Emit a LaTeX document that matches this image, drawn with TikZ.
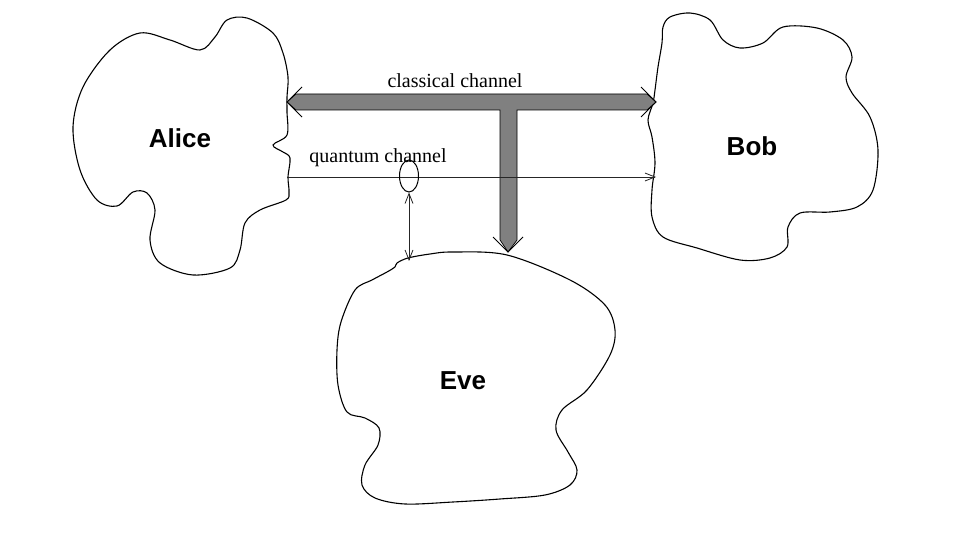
\documentclass[tikz,border=0pt]{standalone}
\usepackage{fontspec}
\setmainfont{Liberation Serif}
\newfontfamily\namefont{Liberation Sans Bold}
\usetikzlibrary{arrows.meta,shapes.geometric,calc}
\tikzset{
  blob/.style={draw=black, line width=1.1pt},
  who/.style={font=\namefont\fontsize{26}{30}\selectfont},
  chanlabel/.style={font=\fontsize{20}{24}\selectfont},
  chanbar/.style={draw=black, line width=0.7pt, fill=black!50},
  openhead/.style={draw=black, line width=0.8pt},
  qline/.style={draw=black!85, line width=0.8pt},
  qtip/.style={-{Straight Barb[length=10pt,width=8pt]}},
  qtips/.style={{Straight Barb[length=10pt,width=8pt]}-{Straight Barb[length=10pt,width=8pt]}}
}
\begin{document}
\begin{tikzpicture}[x=1pt,y=-1pt]
\useasboundingbox (0,0) rectangle (962,540);
% Alice
\draw[blob] plot[smooth cycle, tension=0.55] coordinates {
 (283,53) (288,77) (287,97) (287,112) (287,135) (273,145) (283,152) (290,158)
 (288,177) (289,192) (286,200) (260,210) (245,223) (240,250) (230,268) (193,275)
 (160,263) (150,240) (155,210) (147,193) (133,192) (117,206) (97,200) (80,170)
 (73,127) (83,87) (110,50) (140,33) (170,40) (200,50) (215,37) (227,20)
 (247,18) (273,33)};
% Bob
\draw[blob] plot[smooth cycle, tension=0.55] coordinates {
 (663,27) (670,17) (690,13) (710,20) (723,40) (740,48) (763,43) (783,27)
 (817,28) (843,40) (852,57) (846,77) (852,93) (870,117) (878,150) (873,190)
 (857,207) (830,212) (800,213) (788,227) (787,247) (770,258) (740,260) (697,248)
 (663,237) (652,217) (652,190) (655,163) (652,137) (648,120) (653,103) (655,90)
 (658,67) (662,43)};
% Eve
\draw[blob] plot[smooth cycle, tension=0.55] coordinates {
 (397,263) (408,258) (430,254) (453,252) (507,255) (570,280) (605,305) (615,330)
 (610,355) (587,390) (562,410) (556,430) (568,452) (577,470) (570,485) (545,495)
 (500,499) (453,502) (405,504) (375,498) (362,485) (365,465) (378,445) (379,428)
 (365,418) (347,412) (338,385) (337,350) (341,322) (355,290) (372,280) (387,272) (395,267)};

\node[who] (alice) at (180,138) {Alice};
\node[who] (bob) at (752,146) {Bob};
\node[who] (eve) at (463,381) {Eve};

% channel end points
\coordinate (cl) at (287,102);
\coordinate (cr) at (656,102);
\coordinate (ce) at (508,252);
\coordinate (qa) at (287,177);
\coordinate (qb) at (656,177);
\coordinate (evetop) at (409,261);

% classical channel (T-shaped thick arrow)
\draw[chanbar] (cl) -- ++(9,-8) -- ($(cr)+(-9,-8)$) -- (cr) -- ++(-9,8)
  -- ($(ce)+(9,-142)$) -- ($(ce)+(9,-12)$) -- (ce) -- ($(ce)+(-8,-12)$)
  -- ($(ce)+(-8,-142)$) -- ($(cl)+(9,8)$) -- cycle;
\draw[openhead] ($(cl)+(15,-15)$) -- (cl) -- ($(cl)+(15,15)$);
\draw[openhead] ($(cr)+(-15,-15)$) -- (cr) -- ($(cr)+(-15,15)$);
\draw[openhead] ($(ce)+(-15,-15)$) -- (ce) -- ($(ce)+(15,-15)$);
\node[chanlabel] (cllab) at (455,81) {classical channel};

% quantum channel
\draw[qline, qtip] (qa) -- (qb);
\node[chanlabel] (qlab) at (378,158) {quantum channel};
\node[draw=black, line width=1pt, ellipse, minimum width=19pt, minimum height=32pt, inner sep=0pt] (tap) at (409,176) {};
\draw[qline, qtips] (tap.south) -- (evetop);
\end{tikzpicture}
\end{document}
